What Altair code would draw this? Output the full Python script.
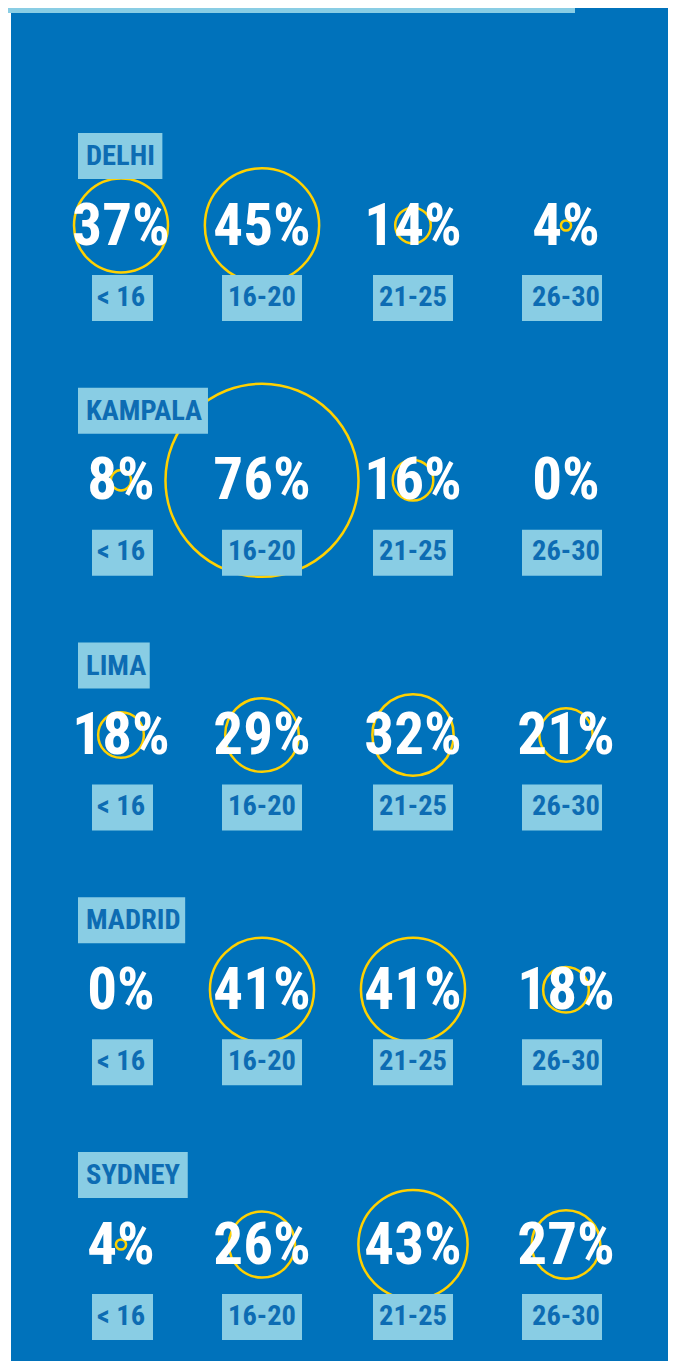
import altair as alt
import pandas as pd

# ---- data ----
cities = ["DELHI", "KAMPALA", "LIMA", "MADRID", "SYDNEY"]
ages = ["< 16", "16-20", "21-25", "26-30"]
delhi = [37, 45, 14, 4]
kampala = [8, 76, 16, 0]
lima = [18, 29, 32, 21]
madrid = [0, 41, 41, 18]
sydney = [4, 26, 43, 27]
series = [delhi, kampala, lima, madrid, sydney]

# ---- styling ----
BLUE = "#0072BB"
LIGHT = "#89CDE4"
YELLOW = "#FFD100"
DARK = "#0D6CB3"
FONT = "Liberation Sans Narrow, Roboto Condensed, DejaVu Sans Condensed, sans-serif"
W, H = 660, 1353

rows = []
for r, city in enumerate(cities):
    for k, age in enumerate(ages):
        v = series[r][k]
        rows.append(dict(city=city, row=r, age=age, col=k, value=v, label=f"{v}%"))
df = pd.DataFrame(rows)

# approximate advance widths (narrow bold) to size the city label boxes
adv = {"A": 722, "D": 722, "E": 667, "H": 722, "I": 278, "K": 722, "L": 611,
       "M": 833, "P": 667, "R": 722, "S": 667, "Y": 667, "N": 722}
CITY_FS = 28.5
city_rows = []
for r, city in enumerate(cities):
    tw = sum(adv.get(ch, 667) for ch in city) * 0.80 / 1000 * CITY_FS
    city_rows.append(dict(city=city, row=r, bx0=70, bx1=70 + tw + 16))
cdf = pd.DataFrame(city_rows)

xs = alt.Scale(domain=[0, 1, 2, 3], range=[113, 254, 405, 558], nice=False, zero=False)
ys = alt.Scale(domain=[0, 4], range=[215.5, 1234.5], nice=False, zero=False)
X = alt.X("col:Q", scale=xs, axis=None)
Y = alt.Y("row:Q", scale=ys, axis=None)

base = alt.Chart(df)

strip = base.mark_rect(color="white").encode(
    x=alt.value(0), x2=alt.value(3), y=alt.value(0), y2=alt.value(H))
topbar = base.mark_rect(color=LIGHT).encode(
    x=alt.value(0), x2=alt.value(567), y=alt.value(0), y2=alt.value(5))

# circle radius ~1.27 px per percentage point; Vega circle size = (2r)^2
circles = base.transform_filter("datum.value > 0").mark_point(
    shape="circle", filled=False, color=YELLOW, strokeWidth=2.5, opacity=1, yOffset=2
).encode(
    x=X, y=Y,
    size=alt.Size("value:Q", scale=alt.Scale(type="pow", exponent=2, domain=[0, 100],
                                             range=[0, 64516]), legend=None),
)

pct = base.mark_text(font=FONT, fontSize=59, fontWeight="bold", color="white",
                     baseline="alphabetic", dy=21).encode(x=X, y=Y, text="label:N")

agebox_mid = base.transform_filter("datum.col > 0 && datum.col < 3").mark_rect(
    color=LIGHT, xOffset=-40, x2Offset=40, yOffset=51.5, y2Offset=97.5
).encode(x=X, x2="col:Q", y=Y, y2="row:Q")
agebox_last = base.transform_filter("datum.col == 3").mark_rect(
    color=LIGHT, xOffset=-44, x2Offset=36, yOffset=51.5, y2Offset=97.5
).encode(x=X, x2="col:Q", y=Y, y2="row:Q")
agebox_first = base.transform_filter("datum.col == 0").mark_rect(
    color=LIGHT, xOffset=-29, x2Offset=32, yOffset=51.5, y2Offset=97.5
).encode(x=X, x2="col:Q", y=Y, y2="row:Q")
agetext = base.mark_text(font=FONT, fontSize=28.5, fontWeight="bold", color=DARK,
                         baseline="alphabetic", dy=82, xOffset=0).encode(
    x=X, y=Y, text="age:N")

citybox = alt.Chart(cdf).mark_rect(color=LIGHT, yOffset=-90.5, y2Offset=-44.5).encode(
    x=alt.X("bx0:Q", scale=None), x2="bx1:Q", y=Y, y2="row:Q")
citytext = alt.Chart(cdf).mark_text(font=FONT, fontSize=CITY_FS, fontWeight="bold", color=DARK,
                                    align="left", baseline="alphabetic", dy=-58.5).encode(
    x=alt.value(78), y=Y, text="city:N")

chart = alt.layer(
    strip, topbar, circles, pct, agebox_mid, agebox_last, agebox_first, agetext,
    citybox, citytext
).properties(
    width=W, height=H, background=BLUE, padding=0, autosize="none"
).configure_view(stroke=None)

chart.save("out.html", embed_options={"renderer": "svg", "actions": False})
